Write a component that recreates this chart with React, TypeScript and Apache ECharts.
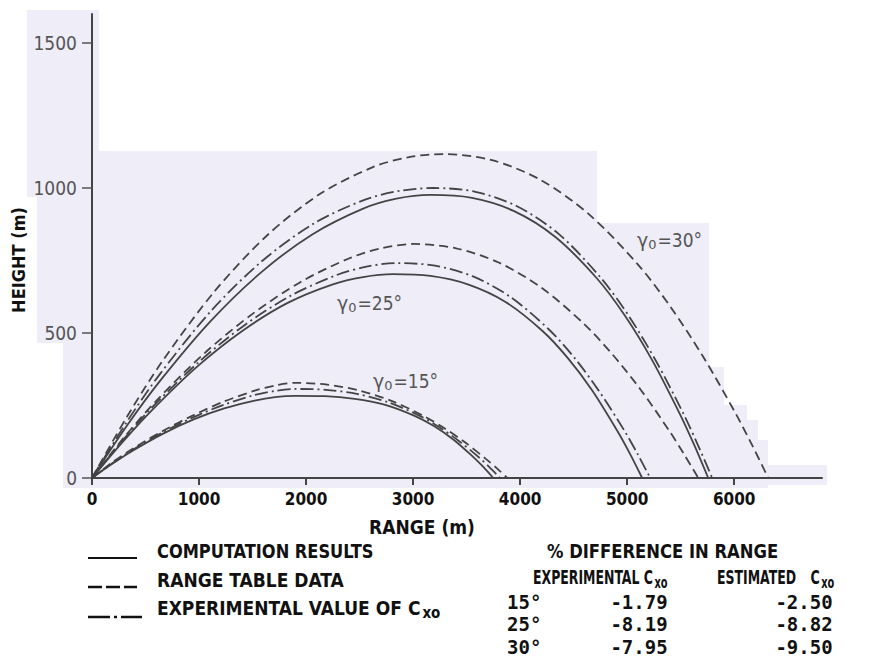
import React, { useEffect, useRef } from "react";
import * as echarts from "echarts";

// ---- axis ticks ----
const xTicks = [0, 1000, 2000, 3000, 4000, 5000, 6000];
const yTicks = [0, 500, 1000, 1500];

// ---- trajectories [range m, height m] ----
// gamma0 = 15 deg
const comp15 = [[0,0],[190,49],[380,94],[665,153],[950,202],[1235,240],[1520,267],[1710,279],[1900,283],[2177,282],[2454,273],[2732,253],[3009,215],[3194,179],[3378,132],[3563,72],[3656,38],[3748,0]];
const exp15 = [[0,0],[190,51],[380,97],[665,158],[950,210],[1235,253],[1520,286],[1710,300],[1900,307],[2187,304],[2474,290],[2761,262],[3048,217],[3239,177],[3430,127],[3622,69],[3717,36],[3813,0]];
const table15 = [[0,0],[190,54],[380,101],[665,163],[950,217],[1235,264],[1520,301],[1710,319],[1900,328],[2197,322],[2494,302],[2791,267],[3088,216],[3286,173],[3484,123],[3682,65],[3781,34],[3880,0]];
// gamma0 = 25 deg
const comp25 = [[0,0],[281,122],[563,235],[985,385],[1407,508],[1828,604],[2250,668],[2532,693],[2813,703],[3162,697],[3511,668],[3860,608],[4209,507],[4442,415],[4675,301],[4907,163],[5024,85],[5140,0]];
const exp25 = [[0,0],[285,129],[570,247],[998,400],[1425,527],[1853,628],[2280,699],[2565,729],[2850,741],[3205,732],[3560,695],[3914,623],[4269,512],[4506,415],[4742,297],[4979,160],[5097,83],[5215,0]];
const table25 = [[0,0],[300,140],[600,266],[1050,430],[1500,566],[1950,676],[2400,757],[2700,792],[3000,807],[3400,792],[3799,743],[4199,656],[4598,531],[4865,425],[5131,302],[5398,160],[5531,82],[5664,0]];
// gamma0 = 30 deg
const comp30 = [[0,0],[316,175],[632,333],[1106,540],[1580,709],[2054,839],[2528,928],[2844,963],[3160,976],[3550,966],[3939,921],[4329,831],[4718,688],[4978,560],[5238,403],[5497,217],[5627,113],[5757,0]];
const exp30 = [[0,0],[319,190],[638,360],[1117,578],[1595,750],[2074,878],[2552,960],[2871,990],[3190,1000],[3581,987],[3971,937],[4362,841],[4752,691],[5013,560],[5273,401],[5534,215],[5664,111],[5794,0]];
const table30 = [[0,0],[328,212],[656,402],[1148,645],[1640,838],[2132,980],[2624,1072],[2952,1106],[3280,1117],[3736,1096],[4191,1028],[4647,908],[5103,735],[5407,589],[5710,418],[6014,222],[6166,114],[6318,0]];

// ---- annotations / table ----
const angleTags = ["15°", "25°", "30°"];
const legendNames = ["COMPUTATION RESULTS", "RANGE TABLE DATA", "EXPERIMENTAL VALUE OF C"];
const tableAngles = ["15°", "25°", "30°"];
const expCx0 = ["-1.79", "-8.19", "-7.95"];
const estCx0 = ["-2.50", "-8.82", "-9.50"];

const NARROW = "'Liberation Sans Narrow', 'DejaVu Sans Condensed', 'Roboto Condensed', sans-serif";
const COND = "'DejaVu Sans Condensed', 'Liberation Sans Narrow', sans-serif";
const MONO = "'DejaVu Sans Mono', 'Liberation Mono', monospace";
const INK = "#444";
const BG = "#eeedf8";

const SOLID = "solid";
const DASHED = [9, 5];
const DASHDOT = [13, 4, 2, 4];

function bgRects() {
  const r = [
    [27, 10, 72, 187],
    [37, 197, 62, 146],
    [63, 343, 36, 145],
    [99, 151, 498, 337],
    [597, 223, 112, 265],
    [709, 367, 15, 121],
    [724, 405, 23, 83],
    [747, 420, 11, 68],
    [758, 440, 10, 48],
    [768, 465, 59, 20],
  ];
  return r.map(([x, y, w, h]) => ({
    type: "rect",
    z: -10,
    silent: true,
    shape: { x, y, width: w, height: h },
    style: { fill: BG },
  }));
}

function gammaTag(x: number, y: number, deg: string) {
  return {
    type: "text",
    x,
    y,
    z: 10,
    style: {
      text: "{g|γ}{s|0}{n|=" + deg + "}",
      fill: "#555",
      verticalAlign: "middle",
      rich: {
        g: { fontSize: 19, fontFamily: "'DejaVu Sans', sans-serif", fill: "#555" },
        s: { fontSize: 13, fontFamily: "'DejaVu Sans', sans-serif", fill: "#555", padding: [9, 1, 0, 0] },
        n: { fontSize: 19, fontFamily: COND, fill: "#555" },
      },
    },
  };
}

function txt(x: number, y: number, text: string, opts: any = {}, el: any = {}) {
  return {
    type: "text",
    x,
    y,
    z: 10,
    ...el,
    style: {
      text,
      fill: "#111",
      fontSize: 19,
      fontFamily: NARROW,
      fontWeight: "bold",
      verticalAlign: "middle",
      ...opts,
    },
  };
}

function cxo(x: number, y: number, label: string, scaleX = 1, gap = 2) {
  return {
    type: "text",
    x,
    y,
    z: 10,
    scaleX,
    style: {
      text: "{m|" + label + "}{c|C}{s|xo}",
      verticalAlign: "middle",
      rich: {
        m: { fontSize: 19, fontFamily: NARROW, fontWeight: "bold", fill: "#111" },
        c: { fontSize: 19, fontFamily: NARROW, fontWeight: "bold", fill: "#111", padding: [0, 0, 0, gap] },
        s: { fontSize: 15, fontFamily: NARROW, fontWeight: "bold", fill: "#111", padding: [10, 0, 0, 2] },
      },
    },
  };
}

export default function App() {
  const ref = useRef<HTMLDivElement>(null);
  useEffect(() => {
    if (!ref.current) return;
    const chart = echarts.init(ref.current, null, { renderer: "svg" });
    const mk = (name: string, data: number[][], type: any) => ({
      name,
      type: "line",
      data,
      showSymbol: false,
      smooth: 0.3,
      silent: true,
      z: 3,
      lineStyle: { color: INK, width: 1.8, type },
    });
    const graphic: any[] = [
      ...bgRects(),
      gammaTag(637, 240, angleTags[2]),
      gammaTag(337, 303, angleTags[1]),
      gammaTag(373, 381, angleTags[0]),
      // axis titles
      txt(422, 527, "RANGE (m)", { align: "center" }),
      {
        type: "text",
        x: 18,
        y: 260,
        rotation: Math.PI / 2,
        z: 10,
        style: {
          text: "HEIGHT (m)",
          fill: "#111",
          fontSize: 18,
          fontFamily: NARROW,
          fontWeight: "bold",
          align: "center",
          verticalAlign: "middle",
        },
      },
      // legend
      { type: "line", z: 10, shape: { x1: 88, y1: 558, x2: 137, y2: 558 }, style: { stroke: "#111", lineWidth: 2 } },
      { type: "line", z: 10, shape: { x1: 88, y1: 587, x2: 137, y2: 587 }, style: { stroke: "#111", lineWidth: 2.5, lineDash: [14, 4] } },
      { type: "line", z: 10, shape: { x1: 88, y1: 617, x2: 142, y2: 617 }, style: { stroke: "#111", lineWidth: 2.5, lineDash: [22, 4, 3, 4] } },
      txt(157, 551, legendNames[0], {}, { scaleX: 0.95 }),
      txt(157, 580, legendNames[1]),
      cxo(157, 608, legendNames[2].slice(0, -1), 1, 0),
      // table
      txt(547, 551, "% DIFFERENCE IN RANGE", {}, { scaleX: 0.96 }),
      cxo(533, 578, "EXPERIMENTAL ", 0.73, 0),
      cxo(717, 578, "ESTIMATED ", 0.73, 14),
    ];
    const rowsY = [602, 624, 647];
    rowsY.forEach((y, i) => {
      graphic.push(txt(507, y, tableAngles[i], { fontFamily: MONO, fontSize: 19 }));
      graphic.push(txt(639, y, expCx0[i], { fontFamily: MONO, fontSize: 19, align: "center" }));
      graphic.push(txt(804, y, estCx0[i], { fontFamily: MONO, fontSize: 19, align: "center" }));
    });

    chart.setOption({
      animation: false,
      backgroundColor: "#ffffff",
      grid: { left: 92, top: 14, width: 730, height: 464, containLabel: false },
      xAxis: {
        type: "value",
        min: 0,
        max: 6820,
        interval: 1000,
        splitLine: { show: false },
        axisLine: { show: true, lineStyle: { color: "#444", width: 2 } },
        axisTick: { show: true, inside: false, length: 7, lineStyle: { color: "#444", width: 2 }, customValues: xTicks },
        axisLabel: {
          customValues: xTicks,
          formatter: (v: number) => String(v),
          margin: 12,
          color: "#111",
          fontSize: 17,
          fontWeight: "bold",
          fontFamily: NARROW,
        },
      },
      yAxis: {
        type: "value",
        min: 0,
        max: 1600,
        interval: 500,
        splitLine: { show: false },
        axisLine: { show: true, lineStyle: { color: "#444", width: 2 } },
        axisTick: { show: true, inside: false, length: 10, lineStyle: { color: "#555", width: 1.5 }, customValues: yTicks },
        axisLabel: {
          customValues: yTicks,
          formatter: (v: number) => String(v),
          margin: 15,
          color: "#555",
          fontSize: 19,
          fontFamily: COND,
        },
      },
      series: [
        mk("comp15", comp15, SOLID),
        mk("table15", table15, DASHED),
        mk("exp15", exp15, DASHDOT),
        mk("comp25", comp25, SOLID),
        mk("table25", table25, DASHED),
        mk("exp25", exp25, DASHDOT),
        mk("comp30", comp30, SOLID),
        mk("table30", table30, DASHED),
        mk("exp30", exp30, DASHDOT),
      ],
      graphic: { elements: graphic },
    });
    return () => chart.dispose();
  }, []);
  return (
    <div
      ref={ref}
      style={{ position: "fixed", left: 0, top: 0, width: 877, height: 657 }}
    />
  );
}
